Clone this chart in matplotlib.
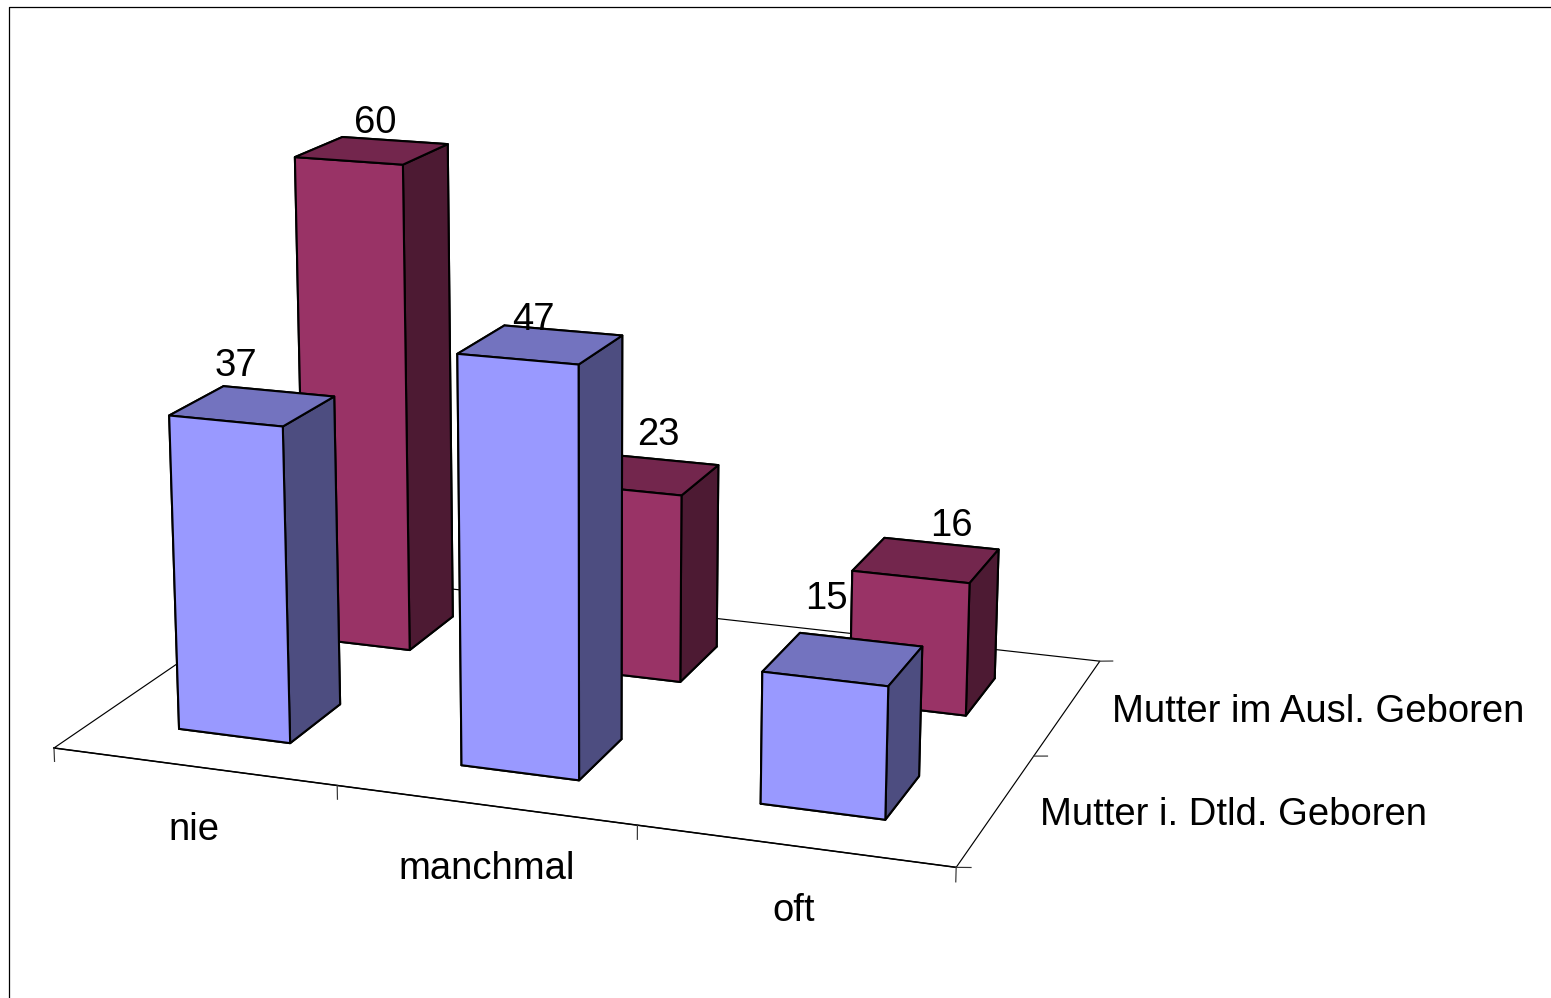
import matplotlib
matplotlib.use("Agg")
import matplotlib.pyplot as plt
from matplotlib.lines import Line2D

plt.rcParams["font.family"] = ["Liberation Sans", "DejaVu Sans"]

W, H = 1551, 998

categories = ["nie", "manchmal", "oft"]
series = ["Mutter i. Dtld. Geboren", "Mutter im Ausl. Geboren"]
blue_values = [37, 47, 15]
red_values = [60, 23, 16]

# face colours: bottom, top, front, back, left, right
blue_faces = ["#4D4D80", "#7373BF", "#9999FF", "#4D4D80", "#4D4D80", "#4D4D80"]
red_faces = ["#4D1A33", "#73264D", "#993366", "#4D1A33", "#4D1A33", "#4D1A33"]

fig = plt.figure(figsize=(W / 100, H / 100), dpi=100)

# 3d axes are always square, so it hangs over the figure edges
side = 1222.9
left = -32.8
top = -182.3
ax = fig.add_axes([left / W, (H - top - side) / H, side / W, side / H], projection="3d",
                  computed_zorder=False)
ax.view_init(14.8536, -70.1299, 0)
ax.set_proj_type("persp", focal_length=0.54224)

bar_w = 0.4
bar_d = 0.4
bar_y = 0.3
order = 3
for j, (vals, faces) in enumerate([(red_values, red_faces), (blue_values, blue_faces)]):
    row = 1 - j
    for i, v in enumerate(vals):
        ax.bar3d(i + 0.5 - bar_w / 2, row + bar_y, 0, bar_w, bar_d, v, color=faces, shade=False,
                 edgecolor="black", linewidth=1.5, zorder=order)
        order += 1

# floor outline and ticks
ax.plot([0, 3, 3, 0, 0], [0, 0, 2, 2, 0], [0, 0, 0, 0, 0], color="black", lw=0.85, zorder=1)
ax.plot([0, 3], [0, 0], [0, 0], color="black", lw=1.1, zorder=1)
for x in range(4):
    ax.plot([x, x], [0, 0], [0, -1.6], color="#333333", lw=0.85, zorder=1)
for y in range(3):
    ax.plot([3, 3.045], [y, y], [0, 0.2], color="#333333", lw=0.85, zorder=1)

ax.set_xlim(0, 3)
ax.set_ylim(0, 2)
ax.set_zlim(0, 70)
ax.set_box_aspect((1, 0.66943, 0.67197))
ax.set_axis_off()


def label(px, py, s, ha="center"):
    fig.text(px / W, 1 - py / H, s, fontsize=27.5, ha=ha, va="baseline", color="black")


# data labels
label(236, 376, str(blue_values[0]))
label(533, 330, str(blue_values[1]))
label(826, 609, str(blue_values[2]))
label(375, 133, str(red_values[0]))
label(658, 445, str(red_values[1]))
label(951, 536, str(red_values[2]))

# category and series labels
label(194, 840, categories[0])
label(487, 879, categories[1])
label(794, 921, categories[2])
label(1040, 825, series[0], ha="left")
label(1112, 722, series[1], ha="left")

# outer frame, only top and left are in the picture
fig.add_artist(Line2D([9 / W, 9 / W, 1], [0, 1 - 7 / H, 1 - 7 / H], color="black", lw=0.9))

fig.savefig("out.png", dpi=100)
